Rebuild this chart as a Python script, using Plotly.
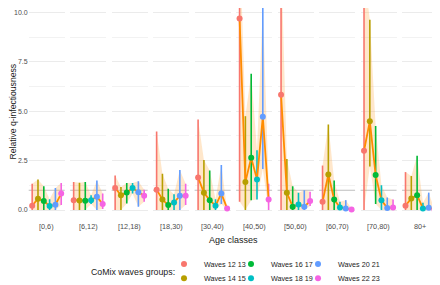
import plotly.graph_objects as go

# ---------------- data ----------------
age_classes = ["[0,6)", "[6,12)", "[12,18)", "[18,30)", "[30,40)",
               "[40,50)", "[50,60)", "[60,70)", "[70,80)", "80+"]
wave_groups = ["Waves 12 13", "Waves 14 15", "Waves 16 17",
               "Waves 18 19", "Waves 20 21", "Waves 22 23"]
wave_colors = ["#F8766D", "#B79F00", "#00BA38", "#00BFC4", "#619CFF", "#F564E3"]

mid_w12_13 = [0.22, 0.50, 1.12, 1.03, 1.65, 9.70, 5.83, 0.42, 3.00, 0.22]
mid_w14_15 = [0.57, 0.48, 0.75, 0.53, 0.87, 1.42, 0.87, 1.80, 4.50, 0.58]
mid_w16_17 = [0.45, 0.47, 0.88, 0.25, 0.50, 2.65, 0.17, 0.53, 1.77, 0.75]
mid_w18_19 = [0.20, 0.50, 1.12, 0.38, 0.22, 1.55, 0.28, 0.13, 0.50, 0.08]
mid_w20_21 = [0.27, 0.67, 0.90, 0.72, 0.83, 4.72, 0.17, 0.07, 0.10, 0.12]
mid_w22_23 = [0.83, 0.30, 0.72, 0.72, 0.08, 0.53, 0.45, 0.03, 0.13, 0.03]

upper_w12_13 = [1.33, 1.42, 1.75, 3.97, 4.58, 14.0, 13.0, 2.25, 12.0, 1.92]
upper_w14_15 = [1.55, 1.38, 1.17, 1.83, 2.53, 4.75, 2.58, 4.33, 9.63, 1.72]
upper_w16_17 = [1.20, 1.42, 1.37, 1.08, 2.00, 6.90, 1.20, 1.50, 4.25, 2.75]
upper_w18_19 = [0.55, 0.75, 1.37, 0.80, 0.55, 3.03, 0.87, 0.42, 1.25, 0.37]
upper_w20_21 = [1.12, 1.50, 1.45, 2.03, 2.28, 10.3, 1.00, 0.50, 0.63, 0.88]
upper_w22_23 = [1.37, 0.83, 1.03, 1.33, 0.15, 1.33, 0.92, 0.08, 0.53, 0.10]

lower_w12_13 = [0.00, 0.00, 0.00, 0.00, 0.00, 0.42, 0.00, 0.00, 0.00, 0.00]
lower_w14_15 = [0.00, 0.00, 0.00, 0.00, 0.00, 0.00, 0.00, 0.00, 2.20, 0.00]
lower_w16_17 = [0.00, 0.00, 0.33, 0.00, 0.00, 0.50, 0.00, 0.00, 0.30, 0.00]
lower_w18_19 = [0.00, 0.30, 0.83, 0.00, 0.00, 0.53, 0.00, 0.00, 0.00, 0.00]
lower_w20_21 = [0.00, 0.00, 0.17, 0.00, 0.30, 2.08, 0.00, 0.00, 0.00, 0.00]
lower_w22_23 = [0.25, 0.05, 0.42, 0.25, 0.00, 0.00, 0.20, 0.00, 0.00, 0.00]

y_tick_values = [0, 2.5, 5, 7.5, 10]
y_tick_labels = ["0.0", "2.5", "5.0", "7.5", "10.0"]

mids = [mid_w12_13, mid_w14_15, mid_w16_17, mid_w18_19, mid_w20_21, mid_w22_23]
uppers = [upper_w12_13, upper_w14_15, upper_w16_17, upper_w18_19, upper_w20_21, upper_w22_23]
lowers = [lower_w12_13, lower_w14_15, lower_w16_17, lower_w18_19, lower_w20_21, lower_w22_23]

# ---------------- layout geometry ----------------
# the page body has an 8px margin, so the figure is drawn at (8, 8)
OFF = 8
W, H = 440 - OFF, 285 - OFF
PLOT_BOTTOM_PAGE = 220
plot_h = PLOT_BOTTOM_PAGE - OFF
MB = H - plot_h
first_left = 28.7
spacing = 41.48
panel_w = 36.0
# y scale: value 0 at page y 210, value 10 at page y 12.5
PX_PER_UNIT = (210 - 12.5) / 10
Y_RANGE = [-(PLOT_BOTTOM_PAGE - 210) / PX_PER_UNIT, (210 - OFF) / PX_PER_UNIT]

FONT = "Liberation Sans, Arial, sans-serif"
LINE_COL = "#FF8C00"
RIBBON_COL = "rgba(255,170,70,0.28)"


def px_x(page_x):
    return (page_x - OFF) / W


def px_y_paper(page_y):
    return (PLOT_BOTTOM_PAGE - page_y) / plot_h


def px_y_cont(page_y):
    return 1 - (page_y - OFF) / H


# legend slots (column-major, like the ggplot legend): text x and row y on the page
legend_text_x = [204, 204, 271, 271, 338, 338]
legend_row_y = [264, 278.3, 264, 278.3, 264, 278.3]
legend_ids = ["legend", "legend2", "legend3", "legend4", "legend5", "legend6"]

fig = go.Figure()
n_g = len(wave_groups)
pos = list(range(1, n_g + 1))

for i, age in enumerate(age_classes):
    xa = "x" if i == 0 else f"x{i+1}"
    ya = "y" if i == 0 else f"y{i+1}"
    up = [uppers[g][i] for g in range(n_g)]
    lo = [lowers[g][i] for g in range(n_g)]
    md = [mids[g][i] for g in range(n_g)]
    fig.add_trace(go.Scatter(x=pos + pos[::-1], y=up + lo[::-1], fill="toself",
                             fillcolor=RIBBON_COL, line=dict(width=0), mode="lines",
                             hoverinfo="skip", showlegend=False, xaxis=xa, yaxis=ya))
    for g in range(n_g):
        fig.add_trace(go.Scatter(
            x=[pos[g]], y=[md[g]], mode="markers",
            marker=dict(size=1, color="rgba(0,0,0,0)"),
            error_y=dict(type="data", symmetric=False, array=[up[g] - md[g]],
                         arrayminus=[md[g] - lo[g]], color=wave_colors[g],
                         thickness=1.6, width=0),
            showlegend=False, hoverinfo="skip", xaxis=xa, yaxis=ya))
    fig.add_trace(go.Scatter(x=pos, y=md, mode="lines",
                             line=dict(color=LINE_COL, width=1.8),
                             showlegend=False, hoverinfo="skip", xaxis=xa, yaxis=ya))
    for g in range(n_g):
        fig.add_trace(go.Scatter(
            x=[pos[g]], y=[md[g]], mode="markers",
            marker=dict(size=6, color=wave_colors[g]),
            name=wave_groups[g], legendgroup=wave_groups[g],
            legend=legend_ids[g],
            showlegend=(i == 0), xaxis=xa, yaxis=ya))

layout = dict(
    width=W, height=H,
    margin=dict(l=0, r=0, t=0, b=MB, autoexpand=False),
    paper_bgcolor="white", plot_bgcolor="white",
    font=dict(family=FONT, color="#1A1A1A"),
    shapes=[], annotations=[],
)

for i, age in enumerate(age_classes):
    left = first_left + i * spacing
    d0, d1 = px_x(left), px_x(left + panel_w)
    xk = "xaxis" if i == 0 else f"xaxis{i+1}"
    yk = "yaxis" if i == 0 else f"yaxis{i+1}"
    layout[xk] = dict(domain=[d0, d1], range=[0.4, 6.6], showgrid=False,
                      zeroline=False, showticklabels=False, ticks="",
                      anchor="y" if i == 0 else f"y{i+1}", fixedrange=True)
    layout[yk] = dict(range=Y_RANGE, anchor="x" if i == 0 else f"x{i+1}",
                      tickvals=y_tick_values, ticktext=y_tick_labels,
                      showticklabels=(i == 0), ticks="", zeroline=False,
                      ticklabeloverflow="allow",
                      showgrid=True, gridcolor="#EBEBEB", gridwidth=1,
                      minor=dict(dtick=1.25, tick0=0, showgrid=True,
                                 gridcolor="#F2F2F2", gridwidth=0.6),
                      tickfont=dict(size=7, color="#4D4D4D", family=FONT),
                      automargin=False, fixedrange=True)
    layout["shapes"].append(dict(type="line", xref=f"{'x' if i == 0 else 'x' + str(i+1)} domain",
                                 yref="y" if i == 0 else f"y{i+1}",
                                 x0=0, x1=1, y0=1, y1=1,
                                 line=dict(color="#BEBEBE", width=1.1), layer="below"))
    layout["annotations"].append(dict(
        text=age, x=px_x(left + panel_w / 2), y=px_y_paper(226.5),
        xref="paper", yref="paper", xanchor="center", yanchor="middle",
        showarrow=False, font=dict(size=7.3, color="#4D4D4D", family=FONT)))

layout["annotations"].append(dict(
    text="Age classes", x=px_x((first_left + first_left + 9 * spacing + panel_w) / 2),
    y=px_y_paper(239.5), xref="paper", yref="paper",
    xanchor="center", yanchor="middle", showarrow=False,
    font=dict(size=9, color="#1A1A1A", family=FONT)))
layout["annotations"].append(dict(
    text="Relative q-infectiousness", x=px_x(12.5), y=px_y_paper(112),
    xref="paper", yref="paper", xanchor="center", yanchor="middle",
    textangle=-90, showarrow=False, font=dict(size=8.6, color="#1A1A1A", family=FONT)))
layout["annotations"].append(dict(
    text="CoMix waves groups:", x=px_x(177), y=px_y_paper(271.5),
    xref="paper", yref="paper", xanchor="right", yanchor="middle",
    showarrow=False, font=dict(size=8.8, color="#1A1A1A", family=FONT)))

for g, lid in enumerate(legend_ids):
    layout[lid] = dict(orientation="h", xanchor="left", yanchor="middle",
                       xref="container", yref="container",
                       x=px_x(legend_text_x[g] - 40), y=px_y_cont(legend_row_y[g]),
                       font=dict(size=7.2, color="#1A1A1A", family=FONT),
                       bgcolor="rgba(0,0,0,0)", itemwidth=30,
                       itemsizing="trace", tracegroupgap=0)

fig.update_layout(**layout)
fig.write_html("out.html")
